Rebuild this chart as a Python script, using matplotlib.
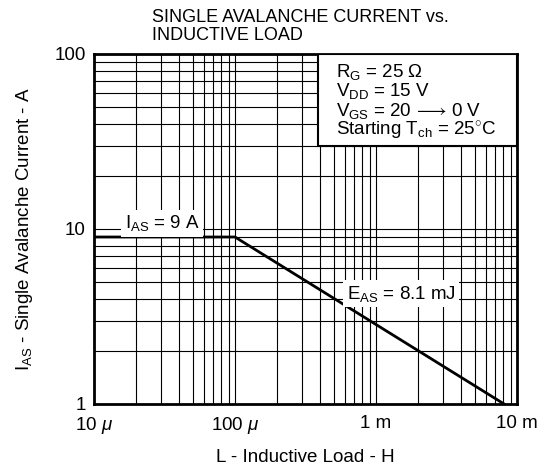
import matplotlib
matplotlib.use('Agg')
import matplotlib.pyplot as plt
from matplotlib.patches import Rectangle
from matplotlib.ticker import LogLocator, NullFormatter, FixedLocator, FixedFormatter

plt.rcParams['font.family'] = ['Liberation Sans', 'DejaVu Sans']
plt.rcParams['mathtext.fontset'] = 'custom'
plt.rcParams['mathtext.rm'] = 'Liberation Sans'
plt.rcParams['mathtext.it'] = 'Liberation Sans:italic'

# avalanche current curve: flat at I_AS, then L * I^2 = const
L_pts = [1e-5, 1e-4, 8.1e-3]
I_pts = [9, 9, 1]

x_ticks = [1e-5, 1e-4, 1e-3, 1e-2]
x_labels = [r'10 $\mu$', r'100 $\mu$', '1 m', '10 m']
y_ticks = [1, 10, 100]
y_labels = ['1', '10', '100']

cond_lines = [r'R$_{\mathregular{G}}$ = 25 $\Omega$',
              r'V$_{\mathregular{DD}}$ = 15 V',
              r'V$_{\mathregular{GS}}$ = 20$\,\longrightarrow\,$0 V',
              r'Starting T$_{\mathregular{ch}}$ = 25$^{\circ}$C']

fs = 13.5

fig = plt.figure(figsize=(5.42, 4.76), dpi=100)
ax = fig.add_axes([94 / 542, 1 - 404 / 476, 423 / 542, 350 / 476])
ax.set_xscale('log')
ax.set_yscale('log')
ax.set_xlim(1e-5, 1e-2)
ax.set_ylim(1, 100)

ax.xaxis.set_major_locator(FixedLocator(x_ticks))
ax.xaxis.set_major_formatter(FixedFormatter(x_labels))
ax.yaxis.set_major_locator(FixedLocator(y_ticks))
ax.yaxis.set_major_formatter(FixedFormatter(y_labels))
ax.xaxis.set_minor_locator(LogLocator(base=10, subs=range(2, 10)))
ax.yaxis.set_minor_locator(LogLocator(base=10, subs=range(2, 10)))
ax.xaxis.set_minor_formatter(NullFormatter())
ax.yaxis.set_minor_formatter(NullFormatter())
ax.tick_params(which='both', length=0, labelsize=fs)
ax.tick_params(axis='x', pad=8)
ax.tick_params(axis='y', pad=6)
ax.grid(True, which='both', color='black', linewidth=0.8)
for s in ax.spines.values():
    s.set_linewidth(2)

ax.plot(L_pts, I_pts, color='black', linewidth=2, zorder=3)

bbox = dict(facecolor='white', edgecolor='none', pad=2.5)
ax.text(1.65e-5, 10.1, r'I$_{\mathregular{AS}}$ = 9 A', fontsize=fs,
        ha='left', va='baseline', bbox=bbox, zorder=4)
ax.text(6.2e-4, 4.0, r'E$_{\mathregular{AS}}$ = 8.1 mJ', fontsize=fs,
        ha='left', va='baseline', bbox=bbox, zorder=4)

# condition box (pixel positions converted to axes fractions)
box_x0 = (318 - 94) / 423
box_y0 = (404 - 146) / 350
ax.add_patch(Rectangle((box_x0, box_y0), 1 - box_x0, 1 - box_y0,
                       transform=ax.transAxes, facecolor='white',
                       edgecolor='black', linewidth=1.5, zorder=5))
for i, line in enumerate(cond_lines):
    base = 77 + i * 19.4
    ax.text((336 - 94) / 423, (404 - base) / 350, line, transform=ax.transAxes,
            fontsize=fs, ha='left', va='baseline', zorder=6)

fig.text(152 / 542, 1 - 22 / 476, 'SINGLE AVALANCHE CURRENT vs.',
         fontsize=13, ha='left', va='baseline')
fig.text(152 / 542, 1 - 40 / 476, 'INDUCTIVE LOAD',
         fontsize=13, ha='left', va='baseline')
ax.set_xlabel('L - Inductive Load - H', fontsize=fs, labelpad=9)
ax.set_ylabel(r'I$_{\mathregular{AS}}$ - Single Avalanche Current - A',
              fontsize=fs, labelpad=14)

fig.savefig('out.png', dpi=100)
